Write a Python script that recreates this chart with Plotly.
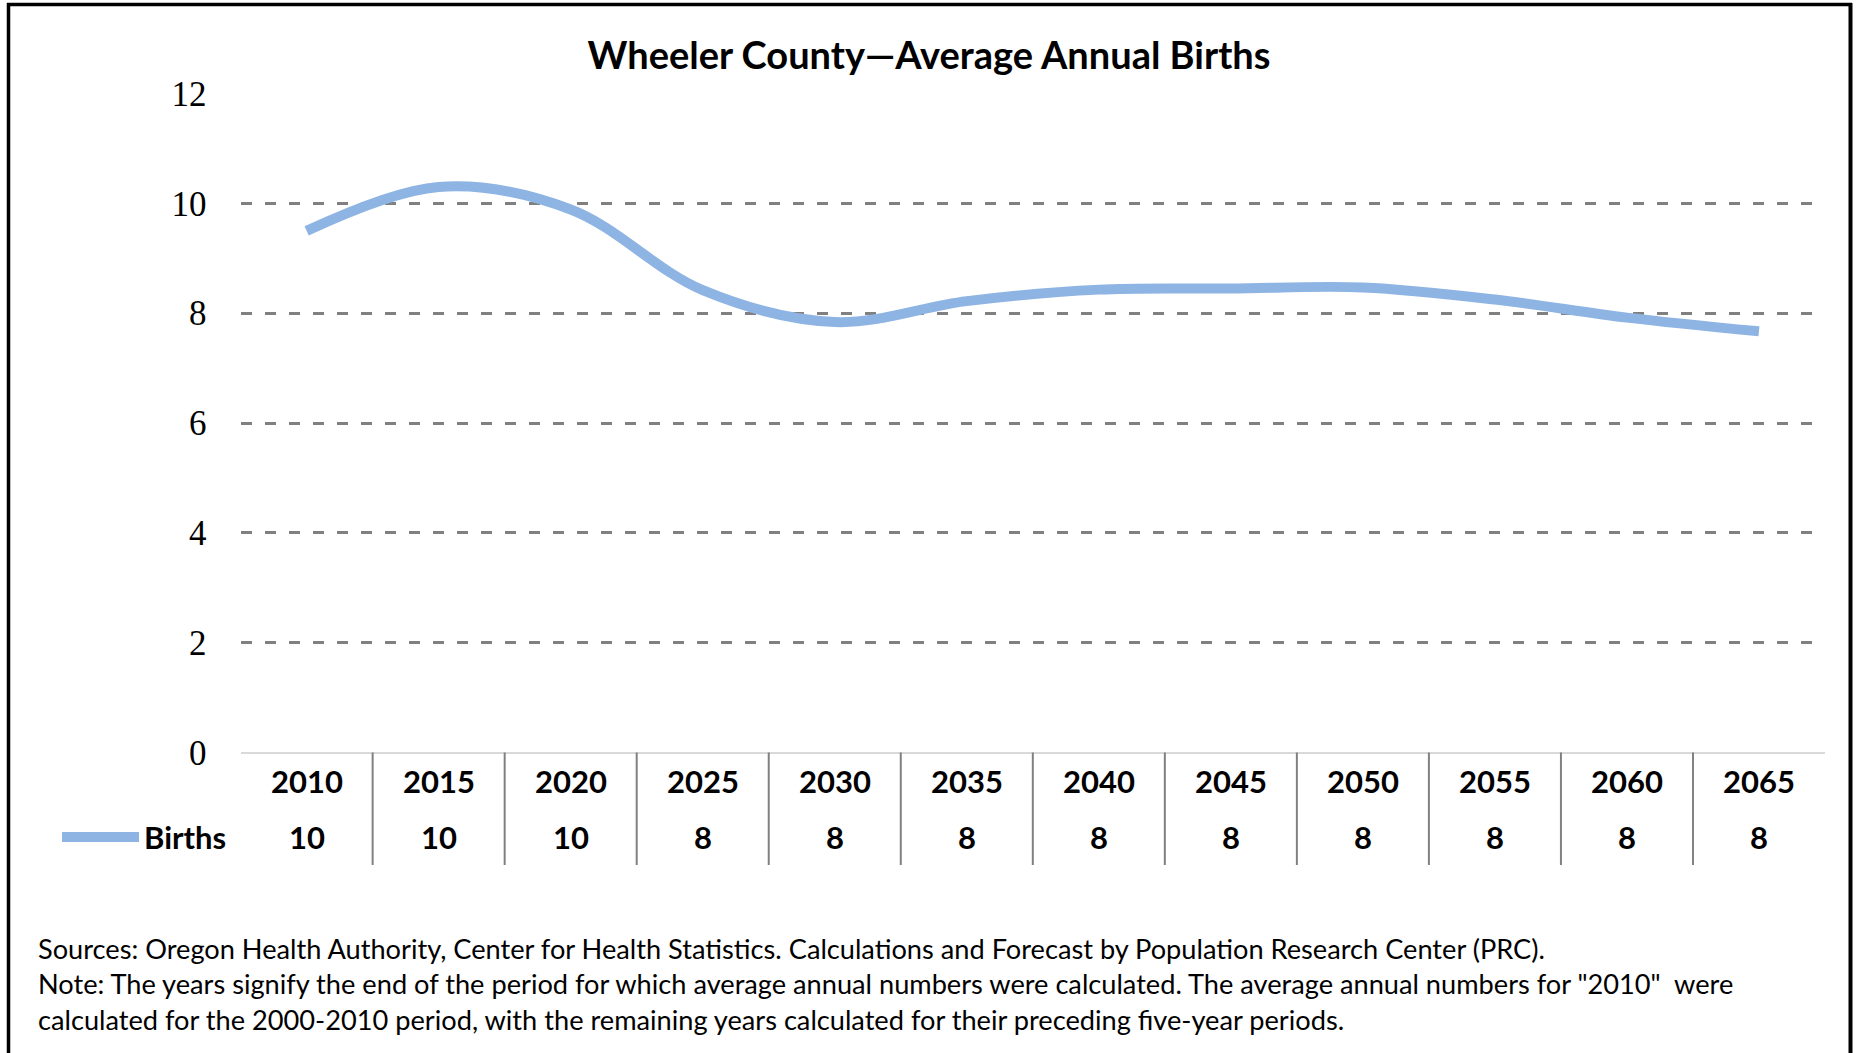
import plotly.graph_objects as go

years = ["2010", "2015", "2020", "2025", "2030", "2035", "2040", "2045", "2050", "2055", "2060", "2065"]
births = [9.5, 10.3, 9.89, 8.42, 7.84, 8.22, 8.43, 8.45, 8.47, 8.25, 7.92, 7.67]
table_values = ["10", "10", "10", "8", "8", "8", "8", "8", "8", "8", "8", "8"]
y_ticks = [0, 2, 4, 6, 8, 10, 12]
title_text = "Wheeler County\u2014Average Annual Births"
series_name = "Births"
notes = [
    "Sources: Oregon Health Authority, Center for Health Statistics. Calculations and Forecast by Population Research Center (PRC).",
    "Note: The years signify the end of the period for which average annual numbers were calculated. The average annual numbers for \"2010\"  were",
    "calculated for the 2000-2010 period, with the remaining years calculated for their preceding five-year periods.",
]

W, H = 1858, 1053
FONT = "Lato"
LINE_COLOR = "#8EB4E3"

def px(y):
    return 1 - y / H

x_idx = list(range(len(years)))

fig = go.Figure()
fig.add_trace(go.Scatter(
    x=x_idx, y=births, mode="lines", name=series_name,
    line=dict(color=LINE_COLOR, width=10, shape="spline", smoothing=1.0),
    showlegend=False, hoverinfo="x+y",
))

x_dom = [240.6 / W, 1825 / W]
y_dom = [px(752.5), px(93.6)]

annotations = []
for i, (yr, v) in enumerate(zip(years, table_values)):
    annotations.append(dict(x=i, xref="x", y=px(781), yref="paper", text="<b>%s</b>" % yr,
                            showarrow=False, font=dict(family=FONT, size=31, color="#000000"),
                            xanchor="center", yanchor="middle"))
    annotations.append(dict(x=i, xref="x", y=px(837), yref="paper", text="<b>%s</b>" % v,
                            showarrow=False, font=dict(family=FONT, size=31, color="#000000"),
                            xanchor="center", yanchor="middle"))
annotations.append(dict(x=142 / W, xref="paper", y=px(837), yref="paper", text="<b>%s</b>" % series_name,
                        showarrow=False, font=dict(family=FONT, size=31, color="#000000"),
                        xanchor="left", yanchor="middle"))
for k, (t, yy) in enumerate(zip(notes, [948, 983, 1019])):
    annotations.append(dict(x=35.5 / W, xref="paper", y=px(yy), yref="paper", text=t,
                            showarrow=False, font=dict(family=FONT, size=27.2, color="#000000"),
                            xanchor="left", yanchor="middle"))

shapes = []
for i in range(len(years) - 1):
    shapes.append(dict(type="line", xref="x", x0=i + 0.5, x1=i + 0.5, yref="paper",
                       y0=px(752.5), y1=px(865), line=dict(color="#808080", width=2)))
shapes.append(dict(type="line", xref="paper", x0=62 / W, x1=139 / W, yref="paper",
                   y0=px(837), y1=px(837), line=dict(color=LINE_COLOR, width=10)))
# outer frame (top, left, right)
shapes.append(dict(type="line", xref="paper", yref="paper", x0=7 / W, x1=1852 / W,
                   y0=px(4.5), y1=px(4.5), line=dict(color="#000000", width=3.5)))
shapes.append(dict(type="line", xref="paper", yref="paper", x0=8.5 / W, x1=8.5 / W,
                   y0=px(3), y1=-0.01, line=dict(color="#000000", width=3.5)))
shapes.append(dict(type="line", xref="paper", yref="paper", x0=1850.5 / W, x1=1850.5 / W,
                   y0=px(3), y1=-0.01, line=dict(color="#000000", width=4)))

fig.update_layout(
    width=W, height=H, autosize=False,
    margin=dict(l=0, r=0, t=0, b=0, pad=0, autoexpand=False),
    paper_bgcolor="white", plot_bgcolor="white",
    title=dict(text="<b>%s</b>" % title_text, x=0.5, xanchor="center", y=px(55.7), yanchor="middle",
               font=dict(family=FONT, size=38, color="#000000")),
    xaxis=dict(domain=x_dom, range=[-0.5, len(years) - 0.5], showgrid=False, zeroline=False,
               showticklabels=False, showline=False, ticks=""),
    yaxis=dict(domain=y_dom, range=[0, 12], tickvals=y_ticks, showgrid=True, gridcolor="#808080",
               gridwidth=3, griddash="11px,13px", zeroline=True, zerolinecolor="#D9D9D9", zerolinewidth=2,
               showline=False, ticks="", ticklabelstandoff=33,
               tickfont=dict(family="Liberation Serif", size=35, color="#000000")),
    annotations=annotations, shapes=shapes, showlegend=False,
)

fig.write_html(
    "out.html",
    config={"displayModeBar": False},
    post_script="document.body.style.margin='0';document.body.style.padding='0';document.body.style.overflow='hidden';",
)
